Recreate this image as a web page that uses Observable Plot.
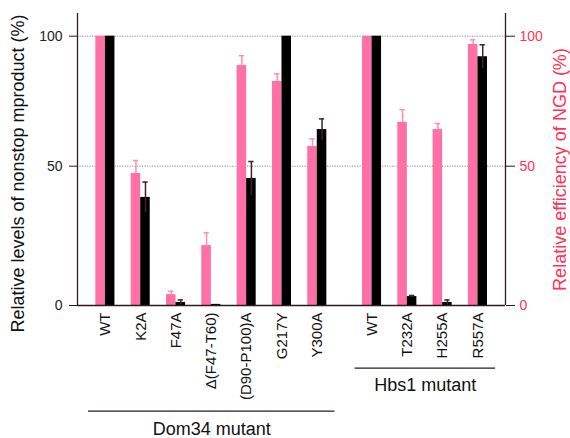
<!DOCTYPE html>
<html>
<head>
<meta charset="utf-8">
<script src="https://cdn.jsdelivr.net/npm/d3@7"></script>
<script src="https://cdn.jsdelivr.net/npm/@observablehq/plot@0.6"></script>
<style>
  html, body { margin: 0; padding: 0; background: #fff; }
</style>
</head>
<body>
<div id="chart"></div>
<script>
// ---- data ----
const categories = ["WT", "K2A", "F47A", "Δ(F47-T60)", "(D90-P100)A", "G217Y", "Y300A", "WT", "T232A", "H255A", "R557A"];
const groups = ["Dom34", "Dom34", "Dom34", "Dom34", "Dom34", "Dom34", "Dom34", "Hbs1", "Hbs1", "Hbs1", "Hbs1"];
const groupLabels = {Dom34: "Dom34 mutant", Hbs1: "Hbs1 mutant"};
const ngd = [100, 47.4, 3.9, 21.5, 88.7, 82.6, 57.6, 100, 66.9, 64.1, 96.8];      // pink, right axis
const ngdErr = [0, 4.8, 1.2, 4.6, 3.8, 2.9, 2.9, 0, 4.8, 2.3, 1.8];
const nonstop = [100, 38.8, 1.1, 0.4, 45.6, 100, 64.1, 100, 3.2, 1.1, 92.1];     // black, left axis
const nonstopErr = [0, 5.5, 0.9, 0, 6.2, 0, 4.1, 0, 0.4, 0.9, 4.6];
const yTicks = [0, 50, 100];

// ---- layout constants ----
const groupGap = 1.55;   // slots between the last bar of one group and the first of the next
const barW = 0.27;
const capW = 0.075;
const pink = "#ff70a6";
const pinkErr = "#ff8fa8";
const dark = "#2a1c1c";
const red = "#ff3355";

// build table
let slot = 0, prev = null;
const rows = categories.map((c, i) => {
  if (prev !== null) slot += (groups[i] !== prev) ? groupGap : 1;
  prev = groups[i];
  return {cat: c, group: groups[i], pos: slot, ngd: ngd[i], ngdErr: ngdErr[i], nonstop: nonstop[i], nonstopErr: nonstopErr[i]};
});
const groupRows = Object.keys(groupLabels).map((g, gi) => {
  const ps = rows.filter(r => r.group === g).map(r => r.pos);
  const start = d3.min(ps) - 0.48, end = d3.max(ps) + 0.5;
  return {key: g, label: groupLabels[g], start, end, mid: (start + end) / 2};
});
const xDomain = [-0.79, 11.33];

const chart = Plot.plot({
  width: 570,
  height: 438,
  marginLeft: 77,
  marginRight: 65,
  marginTop: 13,
  marginBottom: 133,
  style: {fontFamily: "'Liberation Sans', Arial, Helvetica, sans-serif", background: "#fff", overflow: "visible"},
  x: {type: "linear", domain: xDomain, axis: null},
  y: {type: "linear", domain: [0, 50, 100, 108.7], range: [305, 165.7, 35.7, 13], axis: null},
  marks: [
    Plot.gridY([50, 100], {stroke: "#8a8a8a", strokeOpacity: 1, strokeDasharray: "1.2,1.3", strokeWidth: 1}),
    // pink bars (NGD)
    Plot.rect(rows, {x1: d => d.pos - barW, x2: d => d.pos, y1: 0, y2: "ngd", fill: pink}),
    // black bars (nonstop)
    Plot.rect(rows, {x1: d => d.pos, x2: d => d.pos + barW, y1: 0, y2: "nonstop", fill: "#000"}),
    // pink error bars
    Plot.ruleX(rows.filter(d => d.ngdErr > 0), {x: d => d.pos - barW / 2, y1: "ngd", y2: d => d.ngd + d.ngdErr, stroke: pinkErr, strokeWidth: 1.5}),
    Plot.ruleY(rows.filter(d => d.ngdErr > 0), {y: d => d.ngd + d.ngdErr, x1: d => d.pos - barW / 2 - capW, x2: d => d.pos - barW / 2 + capW, stroke: pinkErr, strokeWidth: 1.5}),
    // black error bars
    Plot.ruleX(rows.filter(d => d.nonstopErr > 0), {x: d => d.pos + barW / 2, y1: d => Math.max(0, d.nonstop - d.nonstopErr), y2: d => d.nonstop + d.nonstopErr, stroke: "#3a2626", strokeWidth: 1.5}),
    Plot.ruleY(rows.filter(d => d.nonstopErr > 0), {y: d => d.nonstop + d.nonstopErr, x1: d => d.pos + barW / 2 - capW, x2: d => d.pos + barW / 2 + capW, stroke: "#3a2626", strokeWidth: 1.5}),
    // axis lines
    Plot.ruleX(xDomain, {stroke: dark, strokeWidth: 1.3}),
    Plot.ruleY([0], {stroke: dark, strokeWidth: 1.3}),
    // axes
    Plot.axisY({anchor: "left", ticks: yTicks, tickSize: 8, tickPadding: 7, fontSize: 14, stroke: dark, fill: "#222", label: null}),
    Plot.axisY({anchor: "right", ticks: yTicks, tickSize: 9, tickPadding: 5, fontSize: 14, stroke: dark, fill: red, label: null}),
    // category labels
    Plot.text(rows, {x: "pos", y: () => 0, text: "cat", rotate: -90, textAnchor: "end", lineAnchor: "middle", dy: 7, fontSize: 15, fill: "#111"}),
    // group lines and labels
    Plot.ruleY(groupRows.filter(d => d.key === "Hbs1"), {y: () => 0, x1: "start", x2: "end", dy: 62.7, stroke: dark, strokeWidth: 1.3}),
    Plot.ruleY(groupRows.filter(d => d.key === "Dom34"), {y: () => 0, x1: "start", x2: "end", dy: 105.7, stroke: dark, strokeWidth: 1.3}),
    Plot.text(groupRows.filter(d => d.key === "Hbs1"), {x: "mid", y: () => 0, text: "label", dy: 79.5, fontSize: 18, fill: "#111"}),
    Plot.text(groupRows.filter(d => d.key === "Dom34"), {x: "mid", y: () => 0, text: "label", dy: 123.5, fontSize: 18, fill: "#111"}),
    // axis titles
    Plot.text(["Relative levels of nonstop mproduct (%)"], {frameAnchor: "left", textAnchor: "middle", rotate: -90, dx: -59, dy: 14, fontSize: 18, fill: "#111"}),
    Plot.text(["Relative efficiency of NGD (%)"], {frameAnchor: "right", textAnchor: "middle", rotate: -90, dx: 55, dy: 10, fontSize: 18, fill: red})
  ]
});
document.getElementById("chart").appendChild(chart);
</script>
</body>
</html>
